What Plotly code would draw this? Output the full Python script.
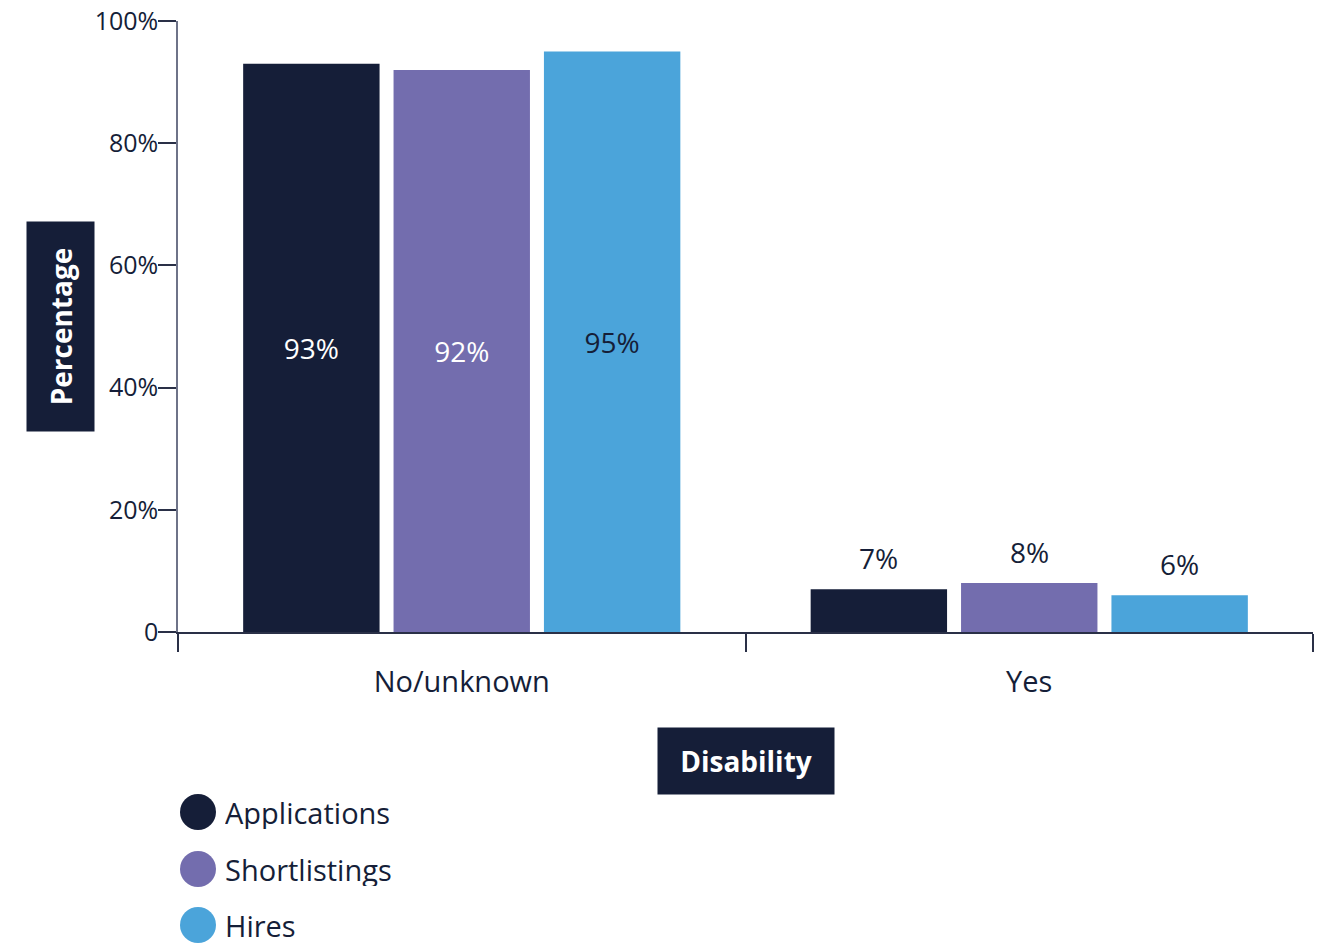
import plotly.graph_objects as go

# Share of each recruitment stage by disability status
categories = ["No/unknown", "Yes"]
series_names = ["Applications", "Shortlistings", "Hires"]
applications = [93, 7]
shortlistings = [92, 8]
hires = [95, 6]
series_values = [applications, shortlistings, hires]

y_tick_values = [0, 20, 40, 60, 80, 100]
y_tick_labels = ["0", "20%", "40%", "60%", "80%", "100%"]

colors = ["#151e38", "#736dae", "#4ba4da"]
inside_text_colors = ["#ffffff", "#ffffff", "#151e38"]
dark = "#151e38"
font_family = "Open Sans, Lato, sans-serif"

BAR_GAP = 0.205
GROUP_GAP = 0.093
W, H = 1329, 944
M_L, M_R, M_T, M_B = 178, 16, 21, 312
plot_w = W - M_L - M_R
plot_h = H - M_T - M_B


def px_to_paper_x(px):
    return (px - M_L) / plot_w


def px_to_paper_y(py):
    return (H - M_B - py) / plot_h


fig = go.Figure()

# Large category: labels sit inside the bars; small category: labels above
for name, vals, col, tcol in zip(series_names, series_values, colors, inside_text_colors):
    fig.add_trace(go.Bar(
        name=name,
        x=categories,
        y=vals,
        marker=dict(color=col, line=dict(width=0)),
        text=[f"{vals[0]}%", ""],
        textposition="inside",
        insidetextanchor="middle",
        textfont=dict(family=font_family, size=28, color=tcol),
        constraintext="none",
        showlegend=False,
        hoverinfo="x+y+name",
    ))

annotations = []
slot = (1 - BAR_GAP) / len(series_names)
for i, vals in enumerate(series_values):
    annotations.append(dict(
        x=1 + (i - (len(series_names) - 1) / 2) * slot,
        y=vals[1],
        xref="x", yref="y",
        text=f"{vals[1]}%",
        showarrow=False,
        yanchor="bottom",
        yshift=10,
        font=dict(family=font_family, size=28, color=dark),
    ))

# Axis titles drawn as filled label boxes
annotations.append(dict(
    x=px_to_paper_x(60.5), y=px_to_paper_y(326.5),
    xref="paper", yref="paper",
    text="<b>Percentage</b>", textangle=-90,
    showarrow=False, bgcolor=dark, width=207, height=65,
    xanchor="center", yanchor="middle",
    font=dict(family=font_family, size=28, color="#ffffff"),
))
annotations.append(dict(
    x=px_to_paper_x(746), y=px_to_paper_y(761),
    xref="paper", yref="paper",
    text="<b>Disability</b>",
    showarrow=False, bgcolor=dark, width=174, height=64,
    xanchor="center", yanchor="middle",
    font=dict(family=font_family, size=28, color="#ffffff"),
))

# Legend with large round keys
shapes = []
legend_rows = [812, 869, 925]
for name, col, row in zip(series_names, colors, legend_rows):
    shapes.append(dict(
        type="circle", xref="paper", yref="paper",
        xsizemode="pixel", ysizemode="pixel",
        xanchor=px_to_paper_x(198), yanchor=px_to_paper_y(row),
        x0=-18, x1=18, y0=-18, y1=18,
        fillcolor=col, line=dict(width=0),
    ))
    annotations.append(dict(
        x=px_to_paper_x(224), y=px_to_paper_y(row),
        xref="paper", yref="paper",
        text=name, showarrow=False,
        xanchor="left", yanchor="middle",
        height=34, borderpad=0,
        font=dict(family=font_family, size=29, color=dark),
    ))

fig.update_layout(
    width=W, height=H,
    margin=dict(l=M_L, r=M_R, t=M_T, b=M_B, pad=0, autoexpand=False),
    paper_bgcolor="#ffffff",
    plot_bgcolor="#ffffff",
    barmode="group",
    bargap=BAR_GAP,
    bargroupgap=GROUP_GAP,
    showlegend=False,
    annotations=annotations,
    shapes=shapes,
    font=dict(family=font_family, color=dark),
    xaxis=dict(
        showline=True, linecolor="#2a3047", linewidth=1.5,
        ticks="outside", tickson="boundaries", ticklen=18,
        tickcolor="#2a3047", tickwidth=1.5,
        ticklabelstandoff=23,
        tickfont=dict(family=font_family, size=29, color=dark),
        showgrid=False, zeroline=False,
    ),
    yaxis=dict(
        range=[0, 100],
        tickvals=y_tick_values, ticktext=y_tick_labels,
        showline=True, linecolor="#6e7388", linewidth=1.5,
        ticks="outside", ticklen=18, tickcolor="#2a3047", tickwidth=1.5,
        ticklabelstandoff=-5,
        tickfont=dict(family=font_family, size=25, color=dark),
        showgrid=False, zeroline=False,
    ),
)

fig.write_html("out.html")
